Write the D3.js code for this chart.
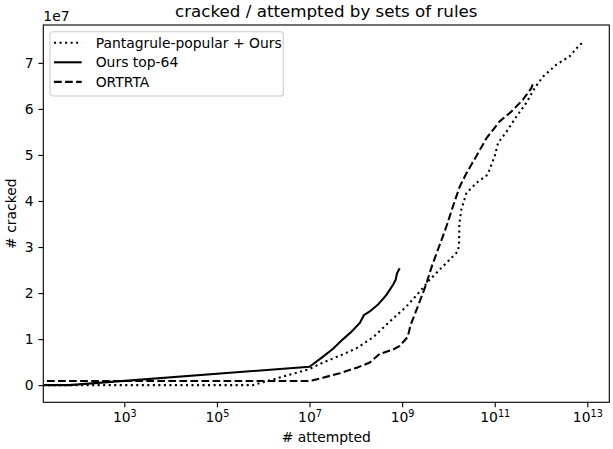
<!DOCTYPE html>
<html>
<head>
<meta charset="utf-8">
<script src="https://cdn.jsdelivr.net/npm/d3@7"></script>
<style>
  body { margin: 0; background: #fff; }
  text { font-family: "DejaVu Sans", sans-serif; fill: #000; }
</style>
</head>
<body>
<svg id="fig_cracked" width="613" height="449"></svg>
<script>
// series (attempted, cracked); 0 attempted sits off the left edge like in matplotlib
var seriesNames = ["Pantagrule-popular + Ours", "Ours top-64", "ORTRTA"];

var popularAttempted = [0, 64, 5.9e5, 1.0e7, 1.96e7, 4.5e7, 1.03e8, 2.36e8, 5.4e8, 1.24e9, 2.4e9, 3.94e9, 7.63e9,
  1.48e10, 1.62e10, 1.70e10, 1.72e10, 1.9e10, 2.44e10, 4.0e10, 7.0e10, 1.0e11, 1.18e11, 1.93e11, 2.92e11,
  4.81e11, 7.26e11, 1.1e12, 2.13e12, 4.13e12, 6.8e12, 8.3e12];
var popularCracked = [0, 0, 0, 3.5e6, 4.9e6, 6.4e6, 8.0e6, 1.04e7, 1.38e7, 1.71e7, 2.03e7, 2.29e7, 2.58e7,
  2.87e7, 2.92e7, 3.1e7, 3.5e7, 3.81e7, 4.17e7, 4.39e7, 4.57e7, 4.97e7, 5.26e7, 5.55e7, 5.83e7,
  6.13e7, 6.45e7, 6.70e7, 6.96e7, 7.14e7, 7.39e7, 7.45e7];

var oursAttempted = [0, 64, 1.0e7, 1.96e7, 3.23e7, 5.31e7, 8.05e7, 1.22e8, 1.49e8, 2.0e8, 3.02e8, 4.58e8,
  6.37e8, 7.28e8, 7.76e8, 8.87e8];
var oursCracked = [0, 0, 4.0e6, 6.2e6, 7.9e6, 1.0e7, 1.16e7, 1.35e7, 1.52e7, 1.60e7, 1.75e7, 1.96e7,
  2.18e7, 2.29e7, 2.43e7, 2.54e7];

var ortrtaAttempted = [0, 1.0e7, 1.94e7, 4.5e7, 1.05e8, 2.0e8, 3.28e8, 6.27e8, 8.87e8, 1.32e9, 1.53e9, 2.17e9,
  3.39e9, 4.34e9, 5.57e9, 7.14e9, 9.0e9, 1.25e10, 1.75e10, 2.44e10, 4.0e10, 6.6e10, 1.28e11, 2.28e11,
  4.06e11, 6.17e11, 6.9e11];
var ortrtaCracked = [9e5, 9e5, 1.6e6, 2.6e6, 3.8e6, 4.9e6, 6.8e6, 7.7e6, 8.5e6, 1.05e7, 1.31e7, 1.70e7,
  2.22e7, 2.57e7, 2.87e7, 3.16e7, 3.44e7, 3.88e7, 4.31e7, 4.60e7, 4.97e7, 5.36e7, 5.73e7, 5.94e7,
  6.20e7, 6.45e7, 6.59e7];

var xTicks = [1e3, 1e5, 1e7, 1e9, 1e11, 1e13];
var xTickExponents = ["3", "5", "7", "9", "11", "13"];
var yTicks = [0, 1e7, 2e7, 3e7, 4e7, 5e7, 6e7, 7e7];
var yTickLabels = ["0", "1", "2", "3", "4", "5", "6", "7"];

var svg = d3.select("#fig_cracked"),
    margin = {top: 25, left: 43.3},
    width = 566,
    height = 377.3,
    g = svg.append("g").attr("transform", "translate(" + margin.left + "," + margin.top + ")");

var series = [
  {name: seriesNames[0], xs: popularAttempted, ys: popularCracked, dash: "2.08,3.44"},
  {name: seriesNames[1], xs: oursAttempted, ys: oursCracked, dash: null},
  {name: seriesNames[2], xs: ortrtaAttempted, ys: ortrtaCracked, dash: "7.7,3.33"}
];

// matplotlib-style 5% autoscale margins (log space for x)
var allX = [], allY = [];
series.forEach(function(s) {
  s.xs.forEach(function(v) { if (v > 0) allX.push(Math.log10(v)); });
  s.ys.forEach(function(v) { allY.push(v); });
});
var lx0 = d3.min(allX), lx1 = d3.max(allX), mx = (lx1 - lx0) * 0.05;
var y0 = d3.min(allY), y1 = d3.max(allY), my = (y1 - y0) * 0.05;

var x = d3.scaleLog()
    .domain([Math.pow(10, lx0 - mx), Math.pow(10, lx1 + mx)])
    .range([0, width]);
var y = d3.scaleLinear()
    .domain([y0 - my, y1 + my])
    .range([height, 0]);

svg.append("defs").append("clipPath").attr("id", "clip")
  .append("rect").attr("width", width).attr("height", height);

var line = d3.line()
    .x(function(d) { return d[0] > 0 ? x(d[0]) : -1000; })
    .y(function(d) { return y(d[1]); });

g.append("g").attr("clip-path", "url(#clip)")
  .selectAll("path")
  .data(series)
  .enter().append("path")
    .attr("d", function(s) { return line(s.xs.map(function(v, i) { return [v, s.ys[i]]; })); })
    .attr("fill", "none")
    .attr("stroke", "#000")
    .attr("stroke-width", 2.08)
    .attr("stroke-dasharray", function(s) { return s.dash; });

// x axis
var xAxis = g.append("g")
    .attr("transform", "translate(0," + height + ")")
    .call(d3.axisBottom(x).tickValues(xTicks).tickSize(4.86).tickFormat(function() { return ""; }));
xAxis.select(".domain").remove();
xAxis.selectAll(".tick line").attr("stroke-width", 1.11);
xAxis.selectAll(".tick text").remove();
xAxis.selectAll(".tick").append("text")
    .attr("y", 20)
    .attr("text-anchor", "middle")
    .style("font-size", "13.9px")
    .each(function(d, i) {
      var t = d3.select(this);
      t.append("tspan").text("10");
      t.append("tspan").attr("dy", -5.5).style("font-size", "9.7px").text(xTickExponents[i]);
    });

// y axis
var yAxis = g.append("g")
    .call(d3.axisLeft(y).tickValues(yTicks).tickSize(4.86).tickPadding(4.86)
      .tickFormat(function(d, i) { return yTickLabels[i]; }));
yAxis.select(".domain").remove();
yAxis.selectAll(".tick line").attr("stroke-width", 1.11);
yAxis.selectAll(".tick text").style("font-size", "13.9px").attr("font-family", null).attr("fill", "#000");

// frame
g.append("rect")
    .attr("width", width).attr("height", height)
    .attr("fill", "none").attr("stroke", "#000").attr("stroke-width", 1.11);

// offset text, title, labels
svg.append("text").attr("x", margin.left).attr("y", 21).style("font-size", "13.9px").text("1e7");
svg.append("text")
    .attr("x", margin.left + width / 2).attr("y", 17)
    .attr("text-anchor", "middle").style("font-size", "16.7px")
    .text("cracked / attempted by sets of rules");
svg.append("text")
    .attr("x", margin.left + width / 2).attr("y", 442)
    .attr("text-anchor", "middle").style("font-size", "13.9px")
    .text("# attempted");
svg.append("text")
    .attr("transform", "translate(16," + (margin.top + height / 2) + ") rotate(-90)")
    .attr("text-anchor", "middle").style("font-size", "13.9px")
    .text("# cracked");

// legend
var legend = g.append("g").attr("transform", "translate(6.7,6.7)");
legend.append("rect")
    .attr("width", 233.3).attr("height", 64.3).attr("rx", 2.8)
    .attr("fill", "#fff").attr("fill-opacity", 0.8)
    .attr("stroke", "#ccc").attr("stroke-width", 1.1);
var items = legend.selectAll(".item")
    .data(series)
    .enter().append("g")
    .attr("transform", function(d, i) { return "translate(0," + (11 + i * 19.6) + ")"; });
items.append("line")
    .attr("x1", 4).attr("x2", 31.7)
    .attr("stroke", "#000").attr("stroke-width", 2.08)
    .attr("stroke-dasharray", function(d) { return d.dash; });
items.append("text")
    .attr("x", 45.7).attr("dy", "0.35em")
    .style("font-size", "13.9px")
    .text(function(d) { return d.name; });
</script>
</body>
</html>
